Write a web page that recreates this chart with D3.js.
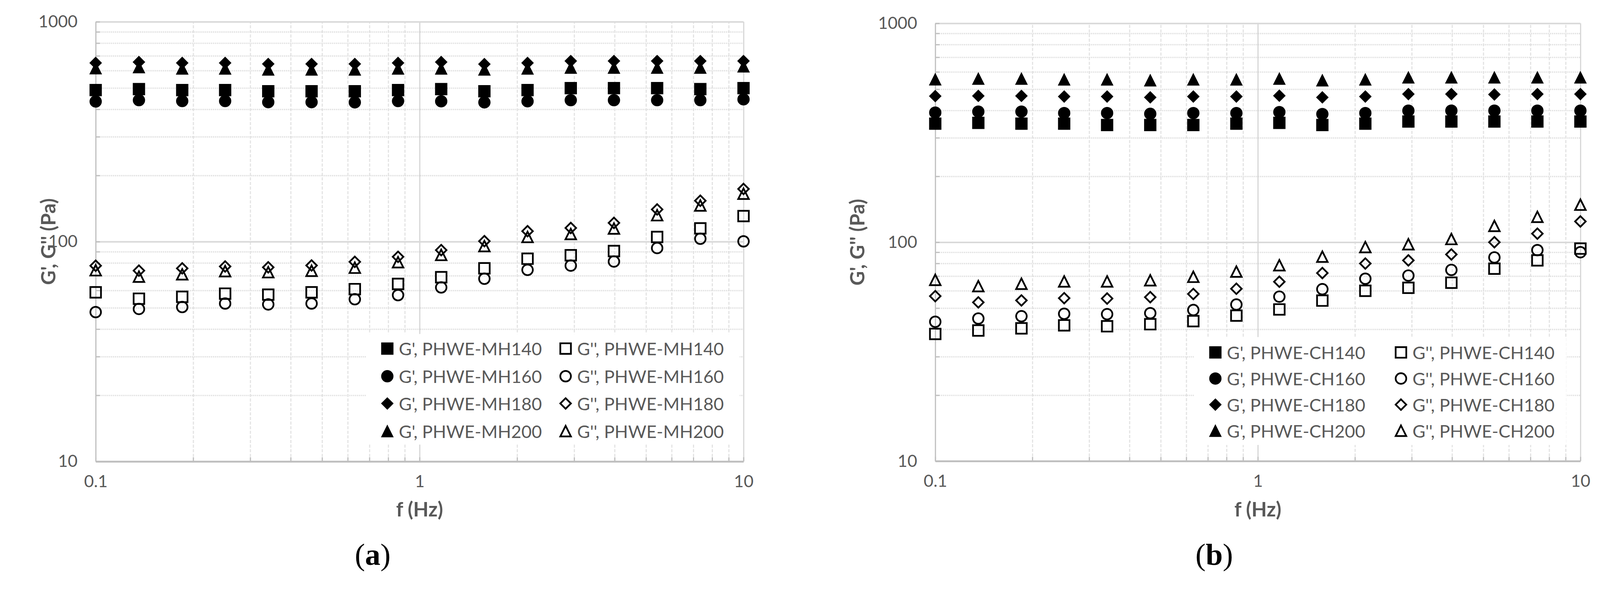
<!DOCTYPE html>
<html>
<head>
<meta charset="utf-8">
<script src="https://cdn.jsdelivr.net/npm/d3@7"></script>
<style>
  html, body { margin: 0; padding: 0; overflow: hidden; background: #fff; width: 100%; height: 100%; }
</style>
</head>
<body>
<script>
// Frequency sweep (Hz), shared by both panels
const freqHz = [0.1, 0.136, 0.185, 0.251, 0.341, 0.464, 0.631, 0.858, 1.166, 1.585, 2.154, 2.929, 3.981, 5.412, 7.356, 10];

// Panel (a): PHWE-MH samples, G' (storage) and G'' (loss), Pa
const mh140G1 = [489, 494, 489, 489, 483, 483, 483, 489, 494, 483, 489, 499, 499, 499, 494, 499];
const mh160G1 = [434, 440, 436, 436, 431, 431, 430, 436, 435, 430, 435, 440, 440, 440, 440, 444];
const mh180G1 = [650, 656, 650, 650, 643, 643, 643, 650, 656, 642, 650, 663, 663, 663, 663, 663];
const mh200G1 = [615, 622, 613, 613, 607, 607, 607, 613, 613, 607, 613, 619, 619, 619, 619, 627];
const mh140G2 = [58.8, 55.0, 56.1, 58.0, 57.4, 58.8, 60.8, 64.2, 68.9, 75.6, 83.6, 86.7, 90.6, 105.0, 114.9, 130.7];
const mh160G2 = [47.8, 49.4, 50.4, 52.3, 51.8, 52.3, 54.7, 57.1, 61.9, 67.8, 74.4, 77.8, 81.2, 93.5, 103.1, 100.3];
const mh180G2 = [77.7, 73.8, 75.6, 77.1, 76.4, 77.9, 80.9, 85.3, 91.5, 100.5, 111.6, 115.4, 121.7, 140.1, 153.5, 173.6];
const mh200G2 = [74.1, 69.3, 71.0, 73.4, 72.6, 73.7, 76.1, 80.6, 87.0, 95.4, 105.0, 108.3, 114.7, 131.9, 146.0, 165.2];

// Panel (b): PHWE-CH samples
const ch140G1 = [348, 351, 348, 348, 343, 343, 343, 348, 351, 343, 348, 356, 356, 356, 356, 356];
const ch160G1 = [391, 395, 395, 389, 389, 386, 389, 389, 393, 385, 389, 399, 399, 399, 399, 399];
const ch180G1 = [465, 466, 466, 463, 463, 459, 463, 463, 467, 459, 463, 475, 475, 473, 475, 475];
const ch200G1 = [555, 559, 559, 554, 554, 549, 554, 554, 559, 549, 554, 566, 566, 566, 566, 566];
const ch140G2 = [38.1, 39.5, 40.4, 41.7, 41.3, 42.2, 43.6, 46.2, 49.3, 54.1, 60.0, 61.9, 65.3, 75.7, 82.6, 93.5];
const ch160G2 = [43.3, 44.8, 45.9, 47.1, 46.9, 47.4, 49.0, 51.9, 56.4, 61.0, 68.1, 70.4, 74.7, 85.2, 92.0, 90.0];
const ch180G2 = [56.7, 53.1, 54.2, 55.5, 55.3, 56.1, 58.0, 61.3, 66.0, 72.3, 79.9, 82.6, 87.9, 100.0, 109.4, 124.4];
const ch200G2 = [67.3, 63.0, 64.6, 66.2, 66.2, 67.0, 69.5, 73.4, 78.5, 85.9, 95.0, 97.9, 103.4, 118.7, 130.6, 148.4];

const namesMH = ["G', PHWE-MH140", "G', PHWE-MH160", "G', PHWE-MH180", "G', PHWE-MH200",
                 "G'', PHWE-MH140", "G'', PHWE-MH160", "G'', PHWE-MH180", "G'', PHWE-MH200"];
const namesCH = ["G', PHWE-CH140", "G', PHWE-CH160", "G', PHWE-CH180", "G', PHWE-CH200",
                 "G'', PHWE-CH140", "G'', PHWE-CH160", "G'', PHWE-CH180", "G'', PHWE-CH200"];

const xTickValues = [0.1, 1, 10];
const yTickValues = [10, 100, 1000];
const xTitle = "f (Hz)";
const yTitle = "G', G'' (Pa)";

const grey = "#595959";
const fontSans = "Lato, 'Open Sans', sans-serif";

// Excel-like marker shapes (size = half extent)
const shapes = {
  square: { draw(ctx, r) { ctx.rect(-r, -r, 2 * r, 2 * r); } },
  circle: { draw(ctx, r) { ctx.moveTo(r, 0); ctx.arc(0, 0, r, 0, 2 * Math.PI); } },
  diamond: { draw(ctx, r) { ctx.moveTo(0, -r); ctx.lineTo(r, 0); ctx.lineTo(0, r); ctx.lineTo(-r, 0); ctx.closePath(); } },
  triangle: { draw(ctx, r) { ctx.moveTo(0, -r); ctx.lineTo(r, r); ctx.lineTo(-r, r); ctx.closePath(); } }
};
const shapeOrder = ["square", "circle", "diamond", "triangle"];

// Fit the 4164x1537 drawing into whatever viewport we get
let svg = d3.select("body")
  .append("svg")
    .attr("viewBox", "0 0 4164 1537")
    .attr("preserveAspectRatio", "xMidYMid meet")
    .style("width", "100vw")
    .style("height", "100vh")
    .style("display", "block");

svg.append("rect").attr("width", 4164).attr("height", 1537).attr("fill", "#fff");

const panels = [
  { tag: "a", x0: 249, x1: 1935, yTop: 44, yBot: 1189, labelX: 125, captionX: 970,
    names: namesMH,
    series: [mh140G1, mh160G1, mh180G1, mh200G1, mh140G2, mh160G2, mh180G2, mh200G2],
    box: [953, 857, 1925, 1145], rows: [895, 967, 1038, 1110], cols: [1008, 1472] },
  { tag: "b", x0: 2434, x1: 4113, yTop: 48, yBot: 1188, labelX: 2230, captionX: 3160,
    names: namesCH,
    series: [ch140G1, ch160G1, ch180G1, ch200G1, ch140G2, ch160G2, ch180G2, ch200G2],
    box: [3108, 865, 4076, 1146], rows: [905, 973, 1041, 1109], cols: [3163, 3646] }
];

function marker(sel, i) {
  const filled = i < 4;
  const sym = d3.symbol().type(shapes[shapeOrder[i % 4]]).size(filled ? 15 : 13.8);
  sel.attr("d", sym)
    .attr("fill", filled ? "#000" : "none")
    .attr("stroke", "#000")
    .attr("stroke-width", filled ? 2 : 4.5)
    .attr("stroke-linejoin", "miter");
}

panels.forEach((p) => {
  let x = d3.scaleLog().domain([0.1, 10]).range([p.x0, p.x1]);
  let y = d3.scaleLog().domain([10, 1000]).range([p.yBot, p.yTop]);
  let g = svg.append("g");

  const xMinor = x.ticks().filter((d) => !xTickValues.includes(d));
  const yMinor = y.ticks().filter((d) => !yTickValues.includes(d));

  // Minor gridlines
  g.append("g")
    .attr("transform", "translate(0," + p.yBot + ")")
    .call(d3.axisBottom(x).tickValues(xMinor).tickSize(-(p.yBot - p.yTop)).tickFormat(""))
    .call((a) => a.select(".domain").remove())
    .selectAll("line")
      .attr("stroke", "#e3e3e3").attr("stroke-width", 3).attr("stroke-dasharray", "8,4");
  g.append("g")
    .attr("transform", "translate(" + p.x0 + ",0)")
    .call(d3.axisLeft(y).tickValues(yMinor).tickSize(-(p.x1 - p.x0)).tickFormat(""))
    .call((a) => a.select(".domain").remove())
    .selectAll("line")
      .attr("stroke", "#e0e0e0").attr("stroke-width", 3.5).attr("stroke-dasharray", "3,2");

  // Major gridlines
  g.append("g")
    .attr("transform", "translate(0," + p.yBot + ")")
    .call(d3.axisBottom(x).tickValues([1, 10]).tickSize(-(p.yBot - p.yTop)).tickFormat(""))
    .call((a) => a.select(".domain").remove())
    .selectAll("line")
      .attr("stroke", "#d6d6d6").attr("stroke-width", 3);
  g.append("g")
    .attr("transform", "translate(" + p.x0 + ",0)")
    .call(d3.axisLeft(y).tickValues([100, 1000]).tickSize(-(p.x1 - p.x0)).tickFormat(""))
    .call((a) => a.select(".domain").remove())
    .selectAll("line")
      .attr("stroke", "#d9d9d9").attr("stroke-width", 4);

  // Axis lines with inside tick marks
  let xAxis = g.append("g")
    .attr("transform", "translate(0," + p.yBot + ")")
    .call(d3.axisBottom(x).tickValues(x.ticks()).tickSizeInner(-11).tickSizeOuter(0).tickFormat(""));
  xAxis.select(".domain").attr("stroke", "#bfbfbf").attr("stroke-width", 5);
  xAxis.selectAll("line").attr("stroke", "#bfbfbf").attr("stroke-width", 3);

  let yAxis = g.append("g")
    .attr("transform", "translate(" + p.x0 + ",0)")
    .call(d3.axisLeft(y).tickValues(y.ticks()).tickSizeInner(-11).tickSizeOuter(0).tickFormat(""));
  yAxis.select(".domain").attr("stroke", "#bfbfbf").attr("stroke-width", 3);
  yAxis.selectAll("line").attr("stroke", "#bfbfbf").attr("stroke-width", 3);

  // Tick labels
  g.append("g")
    .attr("transform", "translate(0," + p.yBot + ")")
    .call(d3.axisBottom(x).tickValues(xTickValues).tickSize(0).tickPadding(36).tickFormat(d3.format("~g")))
    .call((a) => a.select(".domain").remove())
    .attr("font-family", fontSans).attr("font-size", 44)
    .selectAll("text").attr("fill", grey);
  g.append("g")
    .attr("transform", "translate(" + p.x0 + ",0)")
    .call(d3.axisLeft(y).tickValues(yTickValues).tickSize(0).tickPadding(47).tickFormat(d3.format("~g")))
    .call((a) => a.select(".domain").remove())
    .attr("font-family", fontSans).attr("font-size", 44)
    .selectAll("text").attr("fill", grey);

  // Axis titles
  g.append("text")
    .attr("x", x(1))
    .attr("y", 1312)
    .attr("text-anchor", "middle")
    .attr("dominant-baseline", "central")
    .attr("font-family", fontSans).attr("font-weight", "bold").attr("font-size", 52)
    .attr("fill", grey)
    .text(xTitle);
  g.append("text")
    .attr("transform", "translate(" + p.labelX + "," + y(100) + ") rotate(-90)")
    .attr("text-anchor", "middle")
    .attr("dominant-baseline", "central")
    .attr("font-family", fontSans).attr("font-weight", "bold").attr("font-size", 52)
    .attr("fill", grey)
    .text(yTitle);

  // Legend background
  g.append("rect")
    .attr("x", p.box[0]).attr("y", p.box[1])
    .attr("width", p.box[2] - p.box[0]).attr("height", p.box[3] - p.box[1])
    .attr("fill", "#fff");

  // Data markers
  p.series.forEach((vals, i) => {
    g.append("g").selectAll("path")
      .data(vals).enter()
      .append("path")
        .attr("transform", (d, k) => "translate(" + x(freqHz[k]) + "," + y(d) + ")")
        .call(marker, i);
  });

  // Legend entries
  p.names.forEach((name, i) => {
    const cx = p.cols[Math.floor(i / 4)];
    const cy = p.rows[i % 4];
    g.append("path")
      .attr("transform", "translate(" + cx + "," + cy + ")")
      .call(marker, i);
    g.append("text")
      .attr("x", cx + 30)
      .attr("y", cy)
      .attr("dominant-baseline", "central")
      .attr("font-family", fontSans).attr("font-size", 46)
      .attr("fill", grey)
      .text(name);
  });

  // Sub-figure caption
  let cap = svg.append("text")
    .attr("x", p.captionX)
    .attr("y", 1458)
    .attr("text-anchor", "middle")
    .attr("font-family", "'Liberation Serif', 'DejaVu Serif', serif")
    .attr("font-size", 80)
    .attr("fill", "#000");
  cap.append("tspan").text("(");
  cap.append("tspan").attr("font-weight", "bold").text(p.tag);
  cap.append("tspan").text(")");
});
</script>
</body>
</html>
